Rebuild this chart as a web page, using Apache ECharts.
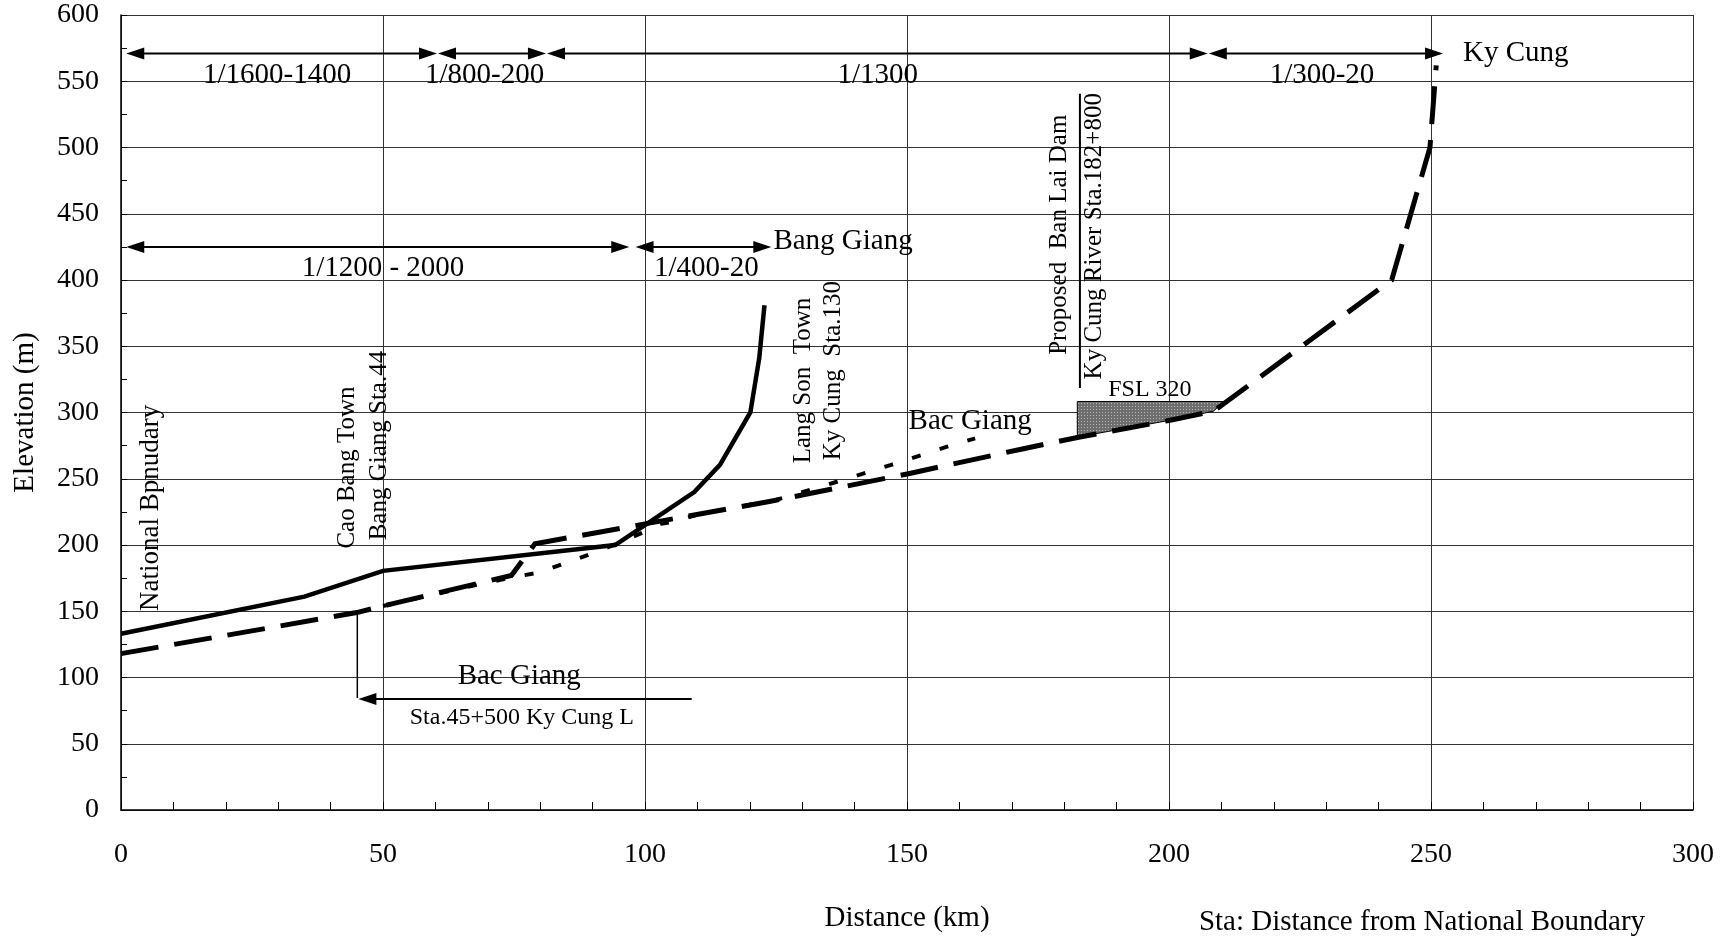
<!DOCTYPE html>
<html>
<head>
<meta charset="utf-8">
<script src="https://cdn.jsdelivr.net/npm/echarts@6/dist/echarts.min.js"></script>
<style>
html,body{margin:0;padding:0;background:#fff;}
#chart{width:1720px;height:938px;}
</style>
</head>
<body>
<div id="chart"></div>
<script>
// ---------------- DATA ----------------
const xTicks = [0, 50, 100, 150, 200, 250, 300];
const yTicks = [0, 50, 100, 150, 200, 250, 300, 350, 400, 450, 500, 550, 600];

// Bang Giang river profile (solid)
const bangGiangProfile = [[0,133],[35,161],[50,180.5],[94.3,200],[109.4,240],[114.3,260.5],[120.1,300],[121.8,341],[122.8,381]];
// Ky Cung river profile (long dash)
const kyCungProfile = [[0,118],[45,149],[50,154],[74.5,177],[79,201],[124,233],[150.5,254],[172,272.5],[183,281.5],[200,294],[208.5,301],[242.5,400],[249.8,500],[251,562]];
// Bac Giang river profile (short dash)
const bacGiangProfile = [[50,154],[68,170],[74,175],[80,179.5],[86,188],[91.5,196],[100,210],[103,216],[106,218],[110,223],[125,234],[136,247],[147,260.5],[157.5,274],[163,280.5]];
// Ban Lai reservoir (FSL)
const reservoir = [[182.5,308.3],[210.4,308.3],[208.5,301],[200,294],[182.5,281.5]];
// Dam marker line
const damLine = [[183,318.5],[183,540.6]];

// Slope span arrows: [from km, to km, elevation]
const spanArrows = [[1,60.3,571],[60.5,81.1,571],[81.3,207.4,571],[207.6,252.3,571],[1,97,425],[98.2,124.1,425]];
const spanLabels = ['1/1600-1400','1/800-200','1/1300','1/300-20','1/1200 - 2000','1/400-20'];
const spanLabelPos = [[29.8,554.6],[69.4,554.6],[144.4,554.6],[229.2,554.6],[50,409],[111.7,409]];

// Bac Giang confluence pointer
const confluenceLeader = [[45.1,149],[45.1,84.5]];
const confluenceArrow = [[108.9,83.8],[45.3,83.8]];

// River name labels (horizontal, left-anchored)
const riverLabels = ['Bang Giang','Bac Giang','Ky Cung','FSL 320'];
const riverLabelPos = [[124.5,429],[150.3,293],[256.1,571],[188.4,317]];
// Bottom labels (centered)
const bottomLabels = ['Bac Giang','Sta.45+500 Ky Cung L'];
const bottomLabelPos = [[76,101],[76.5,70]];

// Vertical labels (reading upward, anchored at bottom)
const vLabels = ['National Bpnudary','Cao Bang Town','Bang Giang Sta.44','Lang Son  Town','Ky Cung  Sta.130','Proposed  Ban Lai Dam','Ky Cung River Sta.182+800'];
const vLabelPos = [[5.7,150.2],[43.2,197.3],[49.4,203.5],[130.2,261.7],[136,264],[179.1,343.5],[185.7,325]];

// ---------------- CHART ----------------
const FONT = "'Liberation Serif','Times New Roman',serif";
const chart = echarts.init(document.getElementById('chart'), null, {renderer:'canvas'});

// dotted grey fill pattern
const pat = document.createElement('canvas');
pat.width = 3; pat.height = 3;
(function(){
  const c = pat.getContext('2d');
  c.fillStyle = '#6e6e6e'; c.fillRect(0,0,3,3);
  c.fillStyle = '#b8b8b8'; c.fillRect(1,1,1,1);
})();

function textSeries(name, labels, pos, opts) {
  return {
    type: 'custom', name: name, silent: true, z: 10,
    coordinateSystem: 'cartesian2d',
    encode: {x: 0, y: 1},
    data: pos.map((p, i) => ({value: [p[0], p[1]], name: labels[i]})),
    renderItem: function (params, api) {
      const pt = api.coord([api.value(0), api.value(1)]);
      const t = labels[params.dataIndex];
      const fs = (opts.sizes ? opts.sizes[params.dataIndex] : opts.fontSize);
      return {
        type: 'text', x: pt[0], y: pt[1], rotation: opts.rotation || 0,
        style: {text: t, fontSize: fs, fontFamily: FONT, fill: '#000',
          align: opts.align, verticalAlign: 'middle'}
      };
    }
  };
}

const option = {
  animation: false,
  backgroundColor: '#fff',
  grid: {left: 121, right: 27, top: 15, bottom: 116, containLabel: false},
  xAxis: {
    type: 'value', min: 0, max: 300, interval: 50,
    name: 'Distance (km)', nameLocation: 'middle', nameGap: 94,
    nameTextStyle: {fontSize: 29, fontFamily: FONT, color: '#000'},
    axisLine: {show: true, onZero: false, lineStyle: {color: '#000', width: 1.5}},
    axisTick: {show: true, inside: true, length: 8, lineStyle: {color: '#000', width: 1}},
    minorTick: {show: true, splitNumber: 5, length: 8, lineStyle: {color: '#000', width: 1}},
    axisLabel: {fontSize: 28, fontFamily: FONT, color: '#000', margin: 31,
      formatter: v => xTicks.includes(v) ? String(v) : ''},
    splitLine: {show: true, lineStyle: {color: '#333', width: 1}}
  },
  yAxis: {
    type: 'value', min: 0, max: 600, interval: 50,
    name: 'Elevation (m)', nameLocation: 'middle', nameGap: 81, nameRotate: 90,
    nameTextStyle: {fontSize: 29, fontFamily: FONT, color: '#000'},
    axisLine: {show: true, onZero: false, lineStyle: {color: '#000', width: 1.5}},
    axisTick: {show: true, inside: true, length: 6, lineStyle: {color: '#000', width: 1}},
    minorTick: {show: true, splitNumber: 2, length: 6, lineStyle: {color: '#000', width: 1}},
    axisLabel: {fontSize: 28, fontFamily: FONT, color: '#000', margin: 22,
      formatter: v => yTicks.includes(v) ? String(v) : ''},
    splitLine: {show: true, lineStyle: {color: '#333', width: 1}}
  },
  graphic: [{
    type: 'text', x: 1422, y: 922,
    style: {text: 'Sta: Distance from National Boundary', fontSize: 29, fontFamily: FONT,
      fill: '#000', align: 'center', verticalAlign: 'middle'}
  }],
  series: [
    {
      type: 'custom', name: 'Reservoir', silent: true, z: 3,
      encode: {x: 0, y: 1},
      data: [0],
      renderItem: function (params, api) {
        const pts = reservoir.map(p => api.coord(p));
        return {type: 'polygon', shape: {points: pts},
          style: {fill: {image: pat, repeat: 'repeat'}, stroke: '#000', lineWidth: 1}};
      }
    },
    {
      type: 'line', name: 'Bang Giang', data: bangGiangProfile, showSymbol: false, z: 5,
      lineStyle: {color: '#000', width: 4.5, cap: 'butt', join: 'miter'}
    },
    {
      type: 'line', name: 'Ky Cung', data: kyCungProfile, showSymbol: false, z: 5,
      lineStyle: {color: '#000', width: 5, type: [38, 16], cap: 'butt', join: 'miter'}
    },
    {
      type: 'line', name: 'Bac Giang', data: bacGiangProfile, showSymbol: false, z: 5,
      lineStyle: {color: '#000', width: 4, type: [9, 20], cap: 'butt', join: 'miter'}
    },
    {
      type: 'line', name: 'Dam', data: damLine, showSymbol: false, z: 5,
      lineStyle: {color: '#000', width: 2}
    },
    {
      type: 'line', name: 'Leader', data: confluenceLeader, showSymbol: false, z: 5,
      lineStyle: {color: '#000', width: 1.5}
    },
    {
      type: 'custom', name: 'Confluence arrow', silent: true, z: 6,
      encode: {x: 0, y: 1},
      data: [0],
      renderItem: function (params, api) {
        const a = api.coord(confluenceArrow[0]);
        const b = api.coord(confluenceArrow[1]);
        const L = 18, H = 6;
        return {type: 'group', children: [
          {type: 'line', shape: {x1: a[0], y1: a[1], x2: b[0] + L - 2, y2: b[1]},
            style: {stroke: '#000', lineWidth: 2}},
          {type: 'polygon', shape: {points: [[b[0], b[1]], [b[0] + L, b[1] - H], [b[0] + L, b[1] + H]]},
            style: {fill: '#000'}}
        ]};
      }
    },
    {
      type: 'custom', name: 'Span arrows', silent: true, z: 6,
      encode: {x: [0, 1], y: 2},
      data: spanArrows,
      renderItem: function (params, api) {
        const p1 = api.coord([api.value(0), api.value(2)]);
        const p2 = api.coord([api.value(1), api.value(2)]);
        const L = 18, H = 6;
        return {type: 'group', children: [
          {type: 'line', shape: {x1: p1[0] + L - 2, y1: p1[1], x2: p2[0] - L + 2, y2: p2[1]},
            style: {stroke: '#000', lineWidth: 2}},
          {type: 'polygon', shape: {points: [[p1[0], p1[1]], [p1[0] + L, p1[1] - H], [p1[0] + L, p1[1] + H]]},
            style: {fill: '#000'}},
          {type: 'polygon', shape: {points: [[p2[0], p2[1]], [p2[0] - L, p2[1] - H], [p2[0] - L, p2[1] + H]]},
            style: {fill: '#000'}}
        ]};
      }
    },
    textSeries('Span labels', spanLabels, spanLabelPos, {fontSize: 29, align: 'center'}),
    textSeries('River labels', riverLabels, riverLabelPos, {sizes: [29, 29, 29, 24], align: 'left'}),
    textSeries('Bottom labels', bottomLabels, bottomLabelPos, {sizes: [29, 24], align: 'center'}),
    textSeries('Vertical labels', vLabels, vLabelPos, {sizes: [27, 25, 25, 25, 25, 25, 25], align: 'left', rotation: Math.PI / 2})
  ]
};
chart.setOption(option);
</script>
</body>
</html>
